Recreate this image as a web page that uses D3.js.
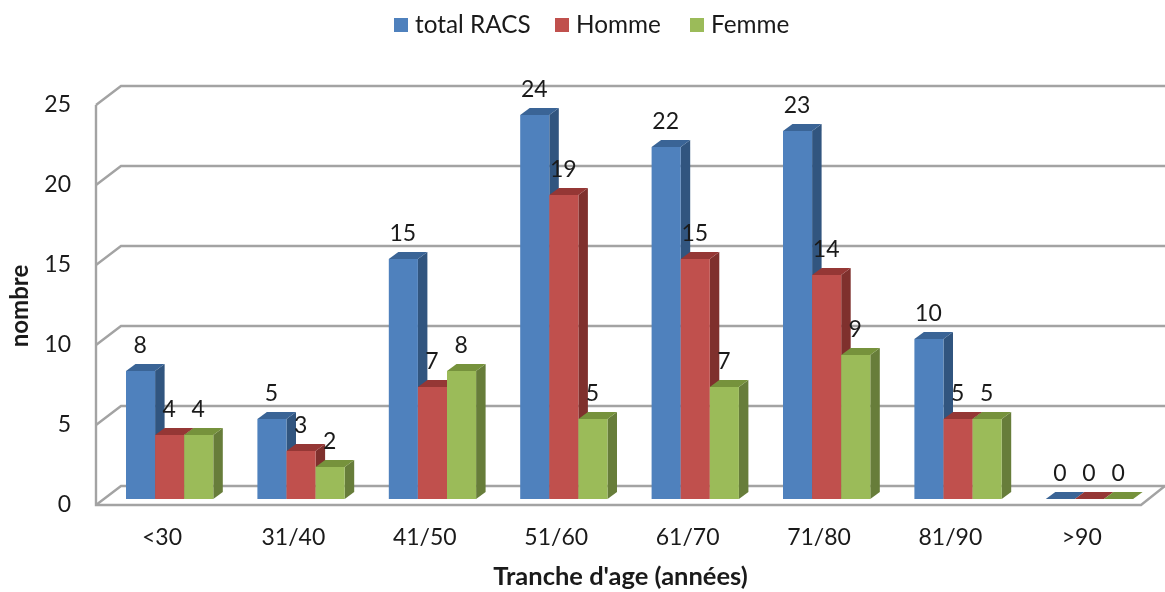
<!DOCTYPE html>
<html><head><meta charset="utf-8">
<script src="https://cdn.jsdelivr.net/npm/d3@7/dist/d3.min.js"></script>
<style>
html,body{margin:0;padding:0;background:#fff;overflow:hidden}
svg{filter:blur(0.45px)}
text{font-family:Lato,sans-serif;fill:#1a1a1a}
</style></head><body>
<svg id="c" width="1165" height="592"></svg>
<script>
const categories = ["<30","31/40","41/50","51/60","61/70","71/80","81/90",">90"];
const seriesNames = ["total RACS","Homme","Femme"];
const totalRacs = [8,5,15,24,22,23,10,0];
const homme = [4,3,7,19,15,14,5,0];
const femme = [4,2,8,5,7,9,5,0];
const yTicks = [0,5,10,15,20,25];
const faceColors = ["#4f81bd","#c0504d","#9bbb59"];
const sideColors = ["#31557f","#7f302d","#677d3a"];
const topColors = ["#3a6496","#953735","#76923c"];
const legendX = [394,555,690];

const seriesValues = [totalRacs,homme,femme];
const svg = d3.select("#c");
const x = d3.scaleBand().domain(categories).range([96.3,1147.5]);
const y = d3.scaleLinear().domain([0,25]).range([505,105]);
const wallDx = 25, wallDy = -19, floorRight = 1141;
const barW = 29.1, barStart = 29.7, baseLift = 6, depthX = 9.5, depthY = -7;
const grid = "#a3a3a3";
const fs = 23;

// walls and floor
const g0 = svg.append("g").attr("fill","none").attr("stroke",grid).attr("stroke-width",2.4);
yTicks.forEach(t=>{
  const yy=y(t);
  g0.append("path").attr("d",`M96,${yy}L${96+wallDx},${yy+wallDy}H1165`);
});
g0.append("path").attr("d",`M96,${y(25)}V${y(0)}H${floorRight}L1165,${y(0)+wallDy}`);

// axes
const axY = svg.append("g").attr("transform","translate(96,0)")
  .call(d3.axisLeft(y).tickValues(yTicks).tickSize(0).tickPadding(25));
axY.select(".domain").remove();
axY.selectAll("text").attr("font-size",fs).attr("dy","0.27em").style("font-family","Lato,sans-serif").style("fill","#1a1a1a");
const axX = svg.append("g").attr("transform","translate(0,505)")
  .call(d3.axisBottom(x).tickSize(0).tickPadding(24));
axX.select(".domain").remove();
axX.selectAll("text").attr("font-size",fs).style("font-family","Lato,sans-serif").style("fill","#1a1a1a");

// bars
categories.forEach((c,i)=>{
  seriesNames.forEach((s,j)=>{
    const v=seriesValues[j][i];
    const x0=x(c)+barStart+j*barW, x1=x0+barW, b=y(0)-baseLift, t=y(v)-baseLift;
    const g=svg.append("g");
    g.append("path").attr("fill",sideColors[j]).attr("d",`M${x1},${t}L${x1+depthX},${t+depthY}V${b+depthY}L${x1},${b}Z`);
    g.append("path").attr("fill",topColors[j]).attr("d",`M${x0},${t}L${x0+depthX},${t+depthY}H${x1+depthX}L${x1},${t}Z`);
    if(v>0) g.append("rect").attr("x",x0).attr("y",t).attr("width",barW).attr("height",b-t).attr("fill",faceColors[j]);
  });
});

// data labels
categories.forEach((c,i)=>{
  seriesNames.forEach((s,j)=>{
    const v=seriesValues[j][i];
    svg.append("text").attr("x",x(c)+barStart+(j+0.5)*barW-0.5).attr("y",y(v)-baseLift-18)
      .attr("text-anchor","middle").attr("font-size",fs).text(v);
  });
});

// legend
seriesNames.forEach((s,j)=>{
  svg.append("rect").attr("x",legendX[j]).attr("y",18).attr("width",14).attr("height",14).attr("fill",faceColors[j]);
  svg.append("text").attr("x",legendX[j]+21).attr("y",33).attr("font-size",24.3).text(s);
});

// axis titles
svg.append("text").attr("x",620.5).attr("y",585).attr("text-anchor","middle").attr("font-size",25.5).attr("font-weight",700).text("Tranche d'age (années)");
svg.append("text").attr("transform","translate(28,306) rotate(-90)").attr("text-anchor","middle").attr("font-size",24).attr("font-weight",700).text("nombre");
</script></body></html>
